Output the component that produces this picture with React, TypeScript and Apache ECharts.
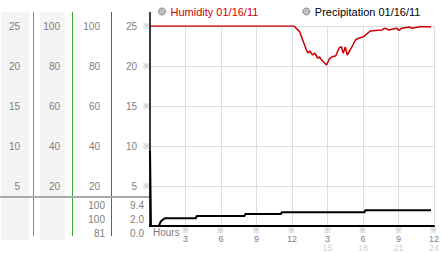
import React, { useEffect, useRef } from "react";
import * as echarts from "echarts";

const FONT = '"Liberation Sans", Arial, sans-serif';

// Humidity (%) over hours
const humidityHours = [0, 12.17, 12.64, 13.06, 13.33, 13.5, 13.75, 13.92, 14.17, 14.33, 14.58, 14.92, 15.14, 15.42, 15.69, 15.97, 16.17, 16.33, 16.5, 16.67, 16.92, 17.36, 17.64, 18.06, 18.61, 19.58, 19.86, 20.17, 20.83, 21.06, 21.25, 21.94, 22.08, 22.92, 23.75];
const humidityValues = [100, 100, 97.2, 90.5, 86.5, 87.5, 85.5, 86.5, 84, 84.5, 82.5, 80.5, 83.4, 84.7, 85, 88.9, 89.7, 86.4, 89.5, 85.5, 88, 93, 93.9, 94.7, 97.5, 98, 98.9, 98, 98.9, 97.8, 98.9, 99.5, 98.9, 99.7, 99.5];

// Precipitation over hours
const precipHours = [0, 0.04, 0.08, 0.75, 0.92, 1.25, 3.89, 3.94, 8.0, 8.05, 11.08, 11.13, 18.14, 18.19, 23.75];
const precipValues = [9.4, 4.8, 0, 0, 0.6, 0.96, 0.96, 1.25, 1.25, 1.5, 1.5, 1.71, 1.71, 1.96, 1.96];

// Stats rows under the separator
const humidityStats = ["100", "100", "81"];
const precipStats = ["9.4", "2.0", "0.0"];

const legendNames = ["Humidity 01/16/11", "Precipitation 01/16/11"];
const hoursLabel = "Hours";

const LABEL = "#808080";

export default function App() {
  const ref = useRef<HTMLDivElement>(null);
  useEffect(() => {
    if (!ref.current) return;
    const chart = echarts.init(ref.current, null, { renderer: "svg" });

    const humData = humidityHours.map((h, i) => [h, humidityValues[i]]);
    const preData = precipHours.map((h, i) => [h, precipValues[i]]);

    const sideAxis = (max: number, interval: number, offset: number, align: string, extra: any = {}) => ({
      type: "value",
      position: "left",
      min: 0,
      max,
      interval,
      offset,
      axisLine: { show: false },
      axisTick: { show: false },
      splitLine: { show: false },
      axisLabel: {
        showMinLabel: false,
        margin: 0,
        align,
        color: LABEL,
        fontSize: 10,
        fontFamily: FONT,
        ...extra,
      },
    });

    const statTexts: any[] = [];
    const statY = [205, 219, 233];
    humidityStats.forEach((t, i) =>
      statTexts.push({
        type: "text",
        x: 105,
        y: statY[i],
        style: { text: t, fill: LABEL, font: `10px ${FONT}`, textAlign: "right", textVerticalAlign: "middle" },
      })
    );
    precipStats.forEach((t, i) =>
      statTexts.push({
        type: "text",
        x: 144,
        y: statY[i],
        style: { text: t, fill: LABEL, font: `10px ${FONT}`, textAlign: "right", textVerticalAlign: "middle" },
      })
    );

    chart.setOption({
      animation: false,
      backgroundColor: "#ffffff",
      textStyle: { fontFamily: FONT },
      legend: {
        left: 153,
        top: 1,
        icon: "circle",
        itemWidth: 7,
        itemHeight: 7,
        itemGap: 44,
        selectedMode: false,
        textStyle: { fontSize: 11, fontFamily: FONT },
        data: [
          { name: legendNames[0], textStyle: { color: "#cc0000" }, itemStyle: { color: "#c0c0c0", borderColor: "#888", borderWidth: 1 } },
          { name: legendNames[1], textStyle: { color: "#000000" }, itemStyle: { color: "#c0c0c0", borderColor: "#888", borderWidth: 1 } },
        ],
      },
      grid: { left: 150, right: 4, top: 26, bottom: 27 },
      xAxis: {
        type: "value",
        min: 0,
        max: 24,
        interval: 3,
        axisLine: { lineStyle: { color: "#000", width: 2 } },
        axisTick: { show: false },
        splitLine: { lineStyle: { color: "#dddddd", width: 1 } },
        axisLabel: {
          showMinLabel: false,
          showMaxLabel: true,
          margin: 1,
          formatter: (v: number) => {
            if (v <= 12) return `{s|※}\n{n|${v}}`;
            return `{s|※}\n{n|${v - 12}}\n{g|${v}}`;
          },
          rich: {
            s: { fontSize: 8, lineHeight: 7, color: "#aaa", align: "center" },
            n: { fontSize: 9, lineHeight: 9, color: LABEL, fontFamily: FONT, align: "center" },
            g: { fontSize: 9, lineHeight: 9, color: "#d0d0d0", fontFamily: FONT, align: "center" },
          },
        },
      },
      yAxis: [
        {
          type: "value",
          min: 0,
          max: 25,
          interval: 5,
          axisLine: { show: false },
          axisTick: { show: false },
          axisLabel: { show: false },
          splitLine: { lineStyle: { color: "#dddddd", width: 1 } },
        },
        sideAxis(100, 20, 50, "right"),
        sideAxis(25, 5, 130, "right"),
        sideAxis(100, 20, 90, "right"),
        sideAxis(25, 5, 13, "right"),
        sideAxis(25, 5, 4, "center", { formatter: () => "※", fontSize: 8, color: "#aaa" }),
      ],
      graphic: [
        { type: "rect", z: -10, shape: { x: 1, y: 12, width: 28, height: 228 }, style: { fill: "#f4f4f4" } },
        { type: "rect", z: -10, shape: { x: 40, y: 12, width: 25, height: 228 }, style: { fill: "#f4f4f4" } },
        { type: "line", z: -5, shape: { x1: 33.5, y1: 12, x2: 33.5, y2: 236 }, style: { stroke: "#3aa0c0", lineWidth: 1 } },
        { type: "line", z: -5, shape: { x1: 72.5, y1: 12, x2: 72.5, y2: 236 }, style: { stroke: "#33aa33", lineWidth: 1 } },
        { type: "line", z: -5, shape: { x1: 111.5, y1: 12, x2: 111.5, y2: 236 }, style: { stroke: "#cc3333", lineWidth: 1 } },
        { type: "line", z: -4, shape: { x1: 0, y1: 197, x2: 150, y2: 197 }, style: { stroke: "#aaaaaa", lineWidth: 2 } },
        { type: "line", z: 50, shape: { x1: 150, y1: 12, x2: 150, y2: 227 }, style: { stroke: "#000", lineWidth: 1.5 } },
        {
          type: "text",
          x: 153,
          y: 232,
          style: { text: hoursLabel, fill: LABEL, font: `10px ${FONT}`, textAlign: "left", textVerticalAlign: "middle" },
        },
        ...statTexts,
      ],
      series: [
        {
          name: legendNames[0],
          type: "line",
          yAxisIndex: 1,
          data: humData,
          symbol: "none",
          lineStyle: { color: "#cc0000", width: 1.5 },
          itemStyle: { color: "#cc0000" },
          z: 3,
        },
        {
          name: legendNames[1],
          type: "line",
          yAxisIndex: 0,
          data: preData,
          symbol: "none",
          lineStyle: { color: "#000000", width: 2 },
          itemStyle: { color: "#000000" },
          z: 4,
        },
      ],
    });
    return () => chart.dispose();
  }, []);
  return <div ref={ref} style={{ position: "fixed", left: 0, top: 0, width: 442, height: 253 }} />;
}
